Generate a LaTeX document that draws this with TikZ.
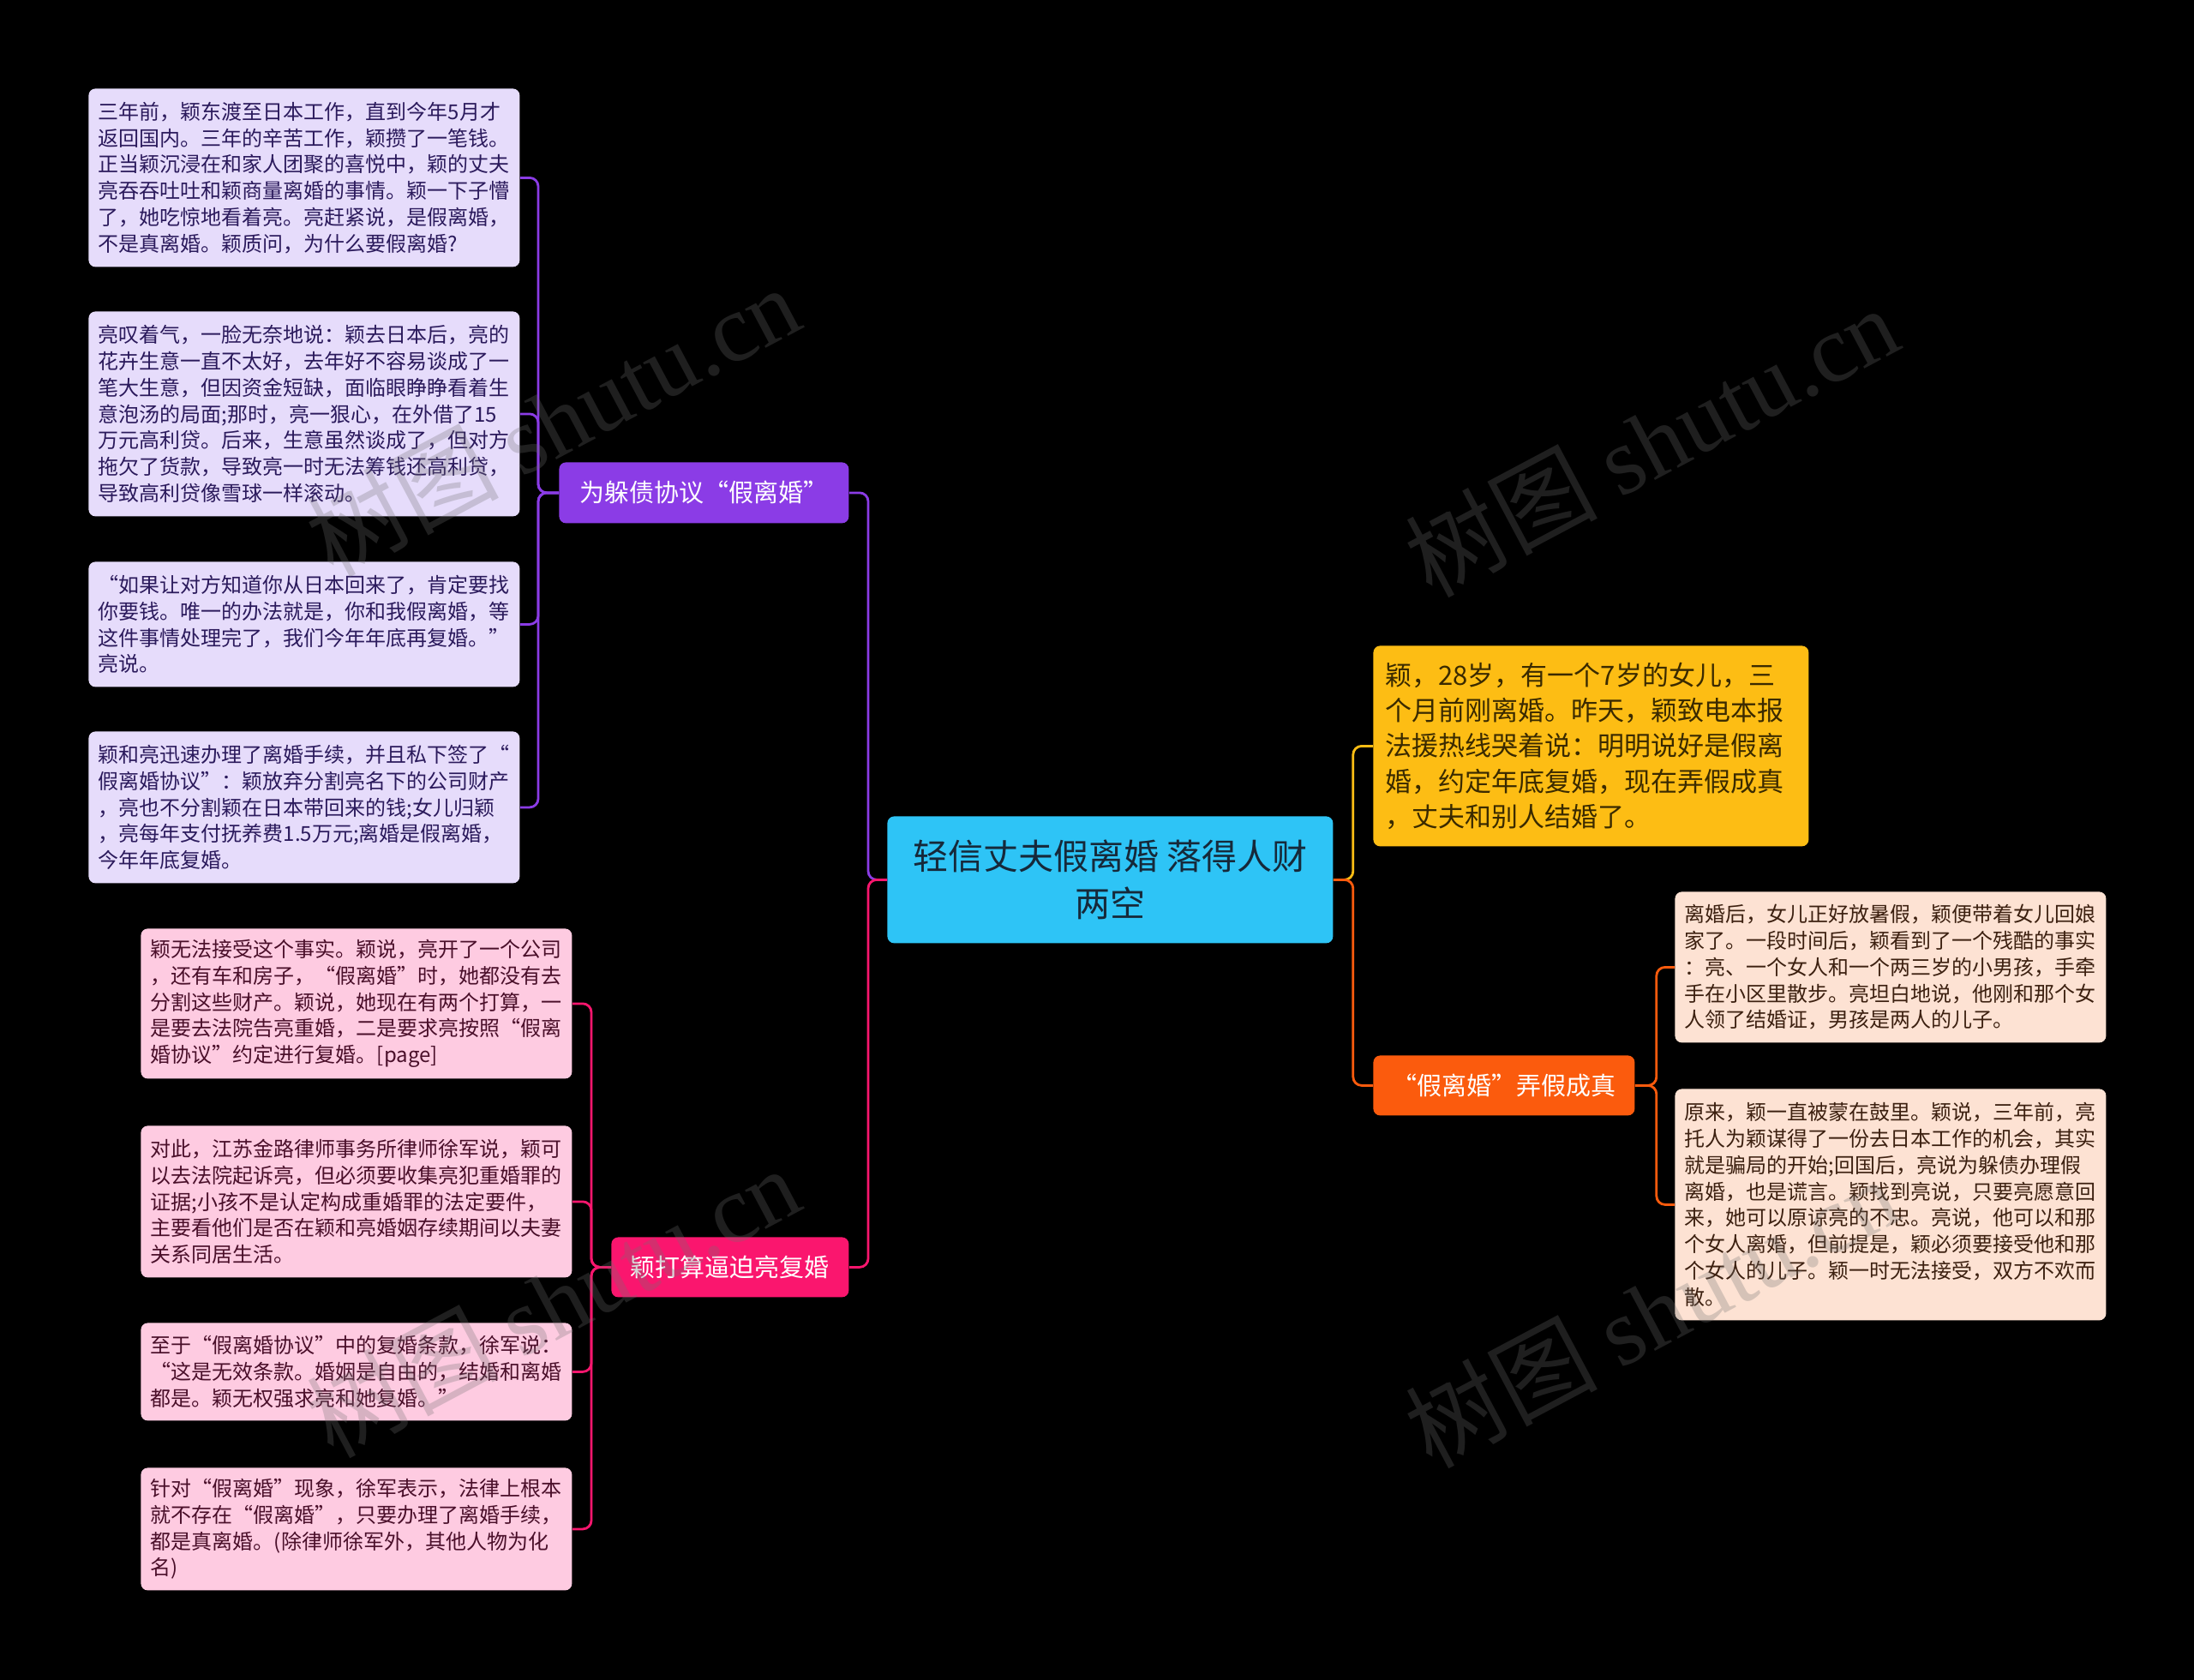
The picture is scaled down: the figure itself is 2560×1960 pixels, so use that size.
\documentclass[tikz,border=0pt]{standalone}
\usepackage{fontspec}
\setmainfont{Noto Sans CJK SC}
\newfontfamily\wmfont{Liberation Serif}

\definecolor{rootcyan}{HTML}{2EC4F6}
\definecolor{roottext}{HTML}{16293A}
\definecolor{debtpurple}{HTML}{8B3CE6}
\definecolor{forcepink}{HTML}{FA166E}
\definecolor{introyellow}{HTML}{FDBD14}
\definecolor{introtext}{HTML}{3A2A00}
\definecolor{fakeorange}{HTML}{FB5B0D}
\definecolor{leafpurple}{HTML}{E6DCFB}
\definecolor{leafpurpletext}{HTML}{2B1A5C}
\definecolor{leafpink}{HTML}{FECBE1}
\definecolor{leafpinktext}{HTML}{4A0F2A}
\definecolor{leafpeach}{HTML}{FDE2D3}
\definecolor{leafpeachtext}{HTML}{3C2010}
\definecolor{wmgray}{HTML}{707070}

\begin{document}
\begin{tikzpicture}[x=0.5pt,y=-0.5pt,
    box/.style={rounded corners=4pt, inner sep=0pt, anchor=north west},
    rootbox/.style={box, fill=rootcyan, text=roottext, align=center,
      minimum width=260pt, minimum height=74pt, font=\fontsize{20.5}{27.8}\selectfont},
    branchbox/.style={box, text=white, align=center, minimum height=35pt,
      font=\fontsize{14.5}{18}\selectfont},
    introbox/.style={box, fill=introyellow, text=introtext, text width=240pt,
      inner xsep=7pt, align=left, minimum height=117pt, font=\fontsize{15.5}{20.7}\selectfont},
    leaf/.style={box, text width=240pt, inner xsep=5.75pt, align=left,
      font=\fontsize{12}{15.4}\selectfont},
    leafd/.style={leaf, fill=leafpurple, text=leafpurpletext},
    leaff/.style={leaf, fill=leafpink, text=leafpinktext},
    leafr/.style={leaf, fill=leafpeach, text=leafpeachtext},
    link/.style={line width=1.4pt, rounded corners=5pt},
    wmark/.style={rotate=28, text=wmgray, opacity=0.28, font=\fontsize{56}{60}\selectfont}]
  \useasboundingbox[fill=black] (0,0) rectangle (2560,1960);

  % centre
  \node (root) [rootbox] at (1035,952) {轻信丈夫假离婚 落得人财\\两空};

  % left side
  \node (debt) [branchbox, fill=debtpurple, minimum width=169pt, minimum height=35.5pt] at (652,539) {为躲债协议“假离婚”};
  \node (force) [branchbox, fill=forcepink, minimum width=138.5pt] at (713,1443) {颖打算逼迫亮复婚};

  \node (d1) [leafd, minimum height=104pt] at (103,103) {三年前，颖东渡至日本工作，直到今年5月才\\
    返回国内。三年的辛苦工作，颖攒了一笔钱。\\
    正当颖沉浸在和家人团聚的喜悦中，颖的丈夫\\
    亮吞吞吐吐和颖商量离婚的事情。颖一下子懵\\
    了，她吃惊地看着亮。亮赶紧说，是假离婚，\\
    不是真离婚。颖质问，为什么要假离婚?};
  \node (d2) [leafd, minimum height=119.5pt] at (103,363) {亮叹着气，一脸无奈地说：颖去日本后，亮的\\
    花卉生意一直不太好，去年好不容易谈成了一\\
    笔大生意，但因资金短缺，面临眼睁睁看着生\\
    意泡汤的局面;那时，亮一狠心，在外借了15\\
    万元高利贷。后来，生意虽然谈成了，但对方\\
    拖欠了货款，导致亮一时无法筹钱还高利贷，\\
    导致高利贷像雪球一样滚动。};
  \node (d3) [leafd, minimum height=73pt] at (103,655) {“如果让对方知道你从日本回来了，肯定要找\\
    你要钱。唯一的办法就是，你和我假离婚，等\\
    这件事情处理完了，我们今年年底再复婚。”\\
    亮说。};
  \node (d4) [leafd, minimum height=88.5pt] at (103,853) {颖和亮迅速办理了离婚手续，并且私下签了“\\
    假离婚协议”：颖放弃分割亮名下的公司财产\\
    ，亮也不分割颖在日本带回来的钱;女儿归颖\\
    ，亮每年支付抚养费1.5万元;离婚是假离婚，\\
    今年年底复婚。};

  \node (f1) [leaff, minimum height=87.5pt] at (164,1083) {颖无法接受这个事实。颖说，亮开了一个公司\\
    ，还有车和房子，“假离婚”时，她都没有去\\
    分割这些财产。颖说，她现在有两个打算，一\\
    是要去法院告亮重婚，二是要求亮按照“假离\\
    婚协议”约定进行复婚。[page]};
  \node (f2) [leaff, minimum height=88.5pt] at (164,1313) {对此，江苏金路律师事务所律师徐军说，颖可\\
    以去法院起诉亮，但必须要收集亮犯重婚罪的\\
    证据;小孩不是认定构成重婚罪的法定要件，\\
    主要看他们是否在颖和亮婚姻存续期间以夫妻\\
    关系同居生活。};
  \node (f3) [leaff, minimum height=57pt] at (164,1543) {至于“假离婚协议”中的复婚条款，徐军说：\\
    “这是无效条款。婚姻是自由的，结婚和离婚\\
    都是。颖无权强求亮和她复婚。”};
  \node (f4) [leaff, minimum height=71.5pt] at (164,1712) {针对“假离婚”现象，徐军表示，法律上根本\\
    就不存在“假离婚”，只要办理了离婚手续，\\
    都是真离婚。(除律师徐军外，其他人物为化\\
    名)};

  % right side
  \node (intro) [introbox] at (1602,753) {颖，28岁，有一个7岁的女儿，三\\
    个月前刚离婚。昨天，颖致电本报\\
    法援热线哭着说：明明说好是假离\\
    婚，约定年底复婚，现在弄假成真\\
    ，丈夫和别人结婚了。};
  \node (fake) [branchbox, fill=fakeorange, minimum width=152.5pt] at (1602,1231) {“假离婚”弄假成真};

  \node (r1) [leafr, minimum height=88pt] at (1954,1040) {离婚后，女儿正好放暑假，颖便带着女儿回娘\\
    家了。一段时间后，颖看到了一个残酷的事实\\
    ：亮、一个女人和一个两三岁的小男孩，手牵\\
    手在小区里散步。亮坦白地说，他刚和那个女\\
    人领了结婚证，男孩是两人的儿子。};
  \node (r2) [leafr, minimum height=135pt] at (1954,1270) {原来，颖一直被蒙在鼓里。颖说，三年前，亮\\
    托人为颖谋得了一份去日本工作的机会，其实\\
    就是骗局的开始;回国后，亮说为躲债办理假\\
    离婚，也是谎言。颖找到亮说，只要亮愿意回\\
    来，她可以原谅亮的不忠。亮说，他可以和那\\
    个女人离婚，但前提是，颖必须要接受他和那\\
    个女人的儿子。颖一时无法接受，双方不欢而\\
    散。};

  % connectors
  \draw[link, debtpurple] (root.west) -- ++(-22,0) |- (debt.east);
  \draw[link, forcepink] (root.west) -- ++(-22,0) |- (force.east);
  \foreach \n in {d1,d2,d3,d4}
    \draw[link, debtpurple] (debt.west) -- ++(-24,0) |- (\n.east);
  \foreach \n in {f1,f2,f3,f4}
    \draw[link, forcepink] (force.west) -- ++(-23,0) |- (\n.east);
  \draw[link, introyellow] (root.east) -- ++(23,0) |- (intro.west);
  \draw[link, fakeorange] (root.east) -- ++(23,0) |- (fake.west);
  \foreach \n in {r1,r2}
    \draw[link, fakeorange] (fake.east) -- ++(25,0) |- (\n.west);

  % watermarks
  \foreach \wx/\wy [count=\i] in {645/490, 1927/514, 645/1518, 1927/1530}
    \node (wm\i) [wmark] at (\wx,\wy) {树图 {\wmfont shutu.cn}};
\end{tikzpicture}
\end{document}
